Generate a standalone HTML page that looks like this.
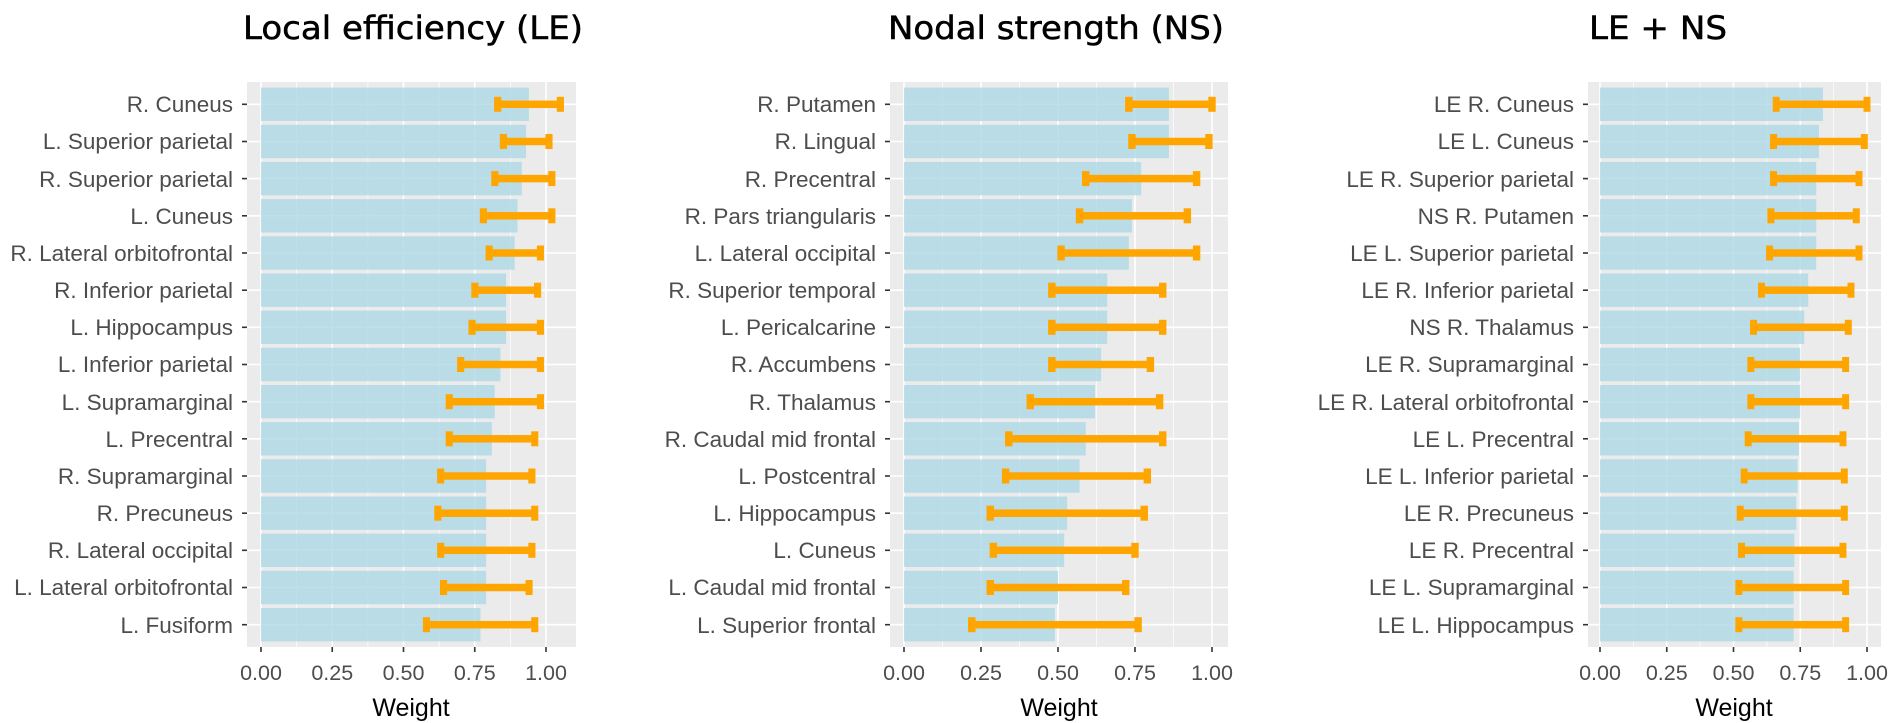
<!DOCTYPE html>
<html><head><meta charset="utf-8"><style>
html,body{margin:0;padding:0;background:#fff;}
svg{display:block;}
.yl{font-family:"Liberation Sans",sans-serif;font-size:22.5px;fill:#4D4D4D;text-anchor:end;}
.xl{font-family:"Liberation Sans",sans-serif;font-size:21.5px;fill:#4D4D4D;text-anchor:middle;}
.at{font-family:"Liberation Sans",sans-serif;font-size:25px;fill:#000;text-anchor:middle;}
.tt{font-family:"DejaVu Sans","Liberation Sans",sans-serif;font-size:32px;fill:#000;stroke:#000;stroke-width:0.5;}
.bar{fill:#ADD8E6;fill-opacity:0.8;}
.eb{fill:#FFA500;}
.gmaj{stroke:#fff;stroke-width:1.6;vector-effect:non-scaling-stroke;}
.gmin{stroke:#fff;stroke-width:0.7;vector-effect:non-scaling-stroke;}
.tk{stroke:#333;stroke-width:1.6;}
</style></head><body>
<svg width="1890" height="723" viewBox="0 0 1890 723" xmlns="http://www.w3.org/2000/svg">
<rect width="1890" height="723" fill="#fff"/>

<!-- ================= PANEL 1 ================= -->
<text class="tt" x="243" y="39" textLength="340" lengthAdjust="spacingAndGlyphs">Local efficiency (LE)</text>
<rect x="247" y="82" width="329" height="565" fill="#EBEBEB"/>
<g stroke="#fff" stroke-width="1.6">
<line x1="247" x2="576" y1="104.3" y2="104.3"/><line x1="247" x2="576" y1="141.5" y2="141.5"/><line x1="247" x2="576" y1="178.6" y2="178.6"/><line x1="247" x2="576" y1="215.8" y2="215.8"/><line x1="247" x2="576" y1="253.0" y2="253.0"/><line x1="247" x2="576" y1="290.2" y2="290.2"/><line x1="247" x2="576" y1="327.3" y2="327.3"/><line x1="247" x2="576" y1="364.5" y2="364.5"/><line x1="247" x2="576" y1="401.7" y2="401.7"/><line x1="247" x2="576" y1="438.8" y2="438.8"/><line x1="247" x2="576" y1="476.0" y2="476.0"/><line x1="247" x2="576" y1="513.2" y2="513.2"/><line x1="247" x2="576" y1="550.3" y2="550.3"/><line x1="247" x2="576" y1="587.5" y2="587.5"/><line x1="247" x2="576" y1="624.7" y2="624.7"/>
</g>
<g transform="translate(261,0) scale(285,1)">
<line class="gmin" x1="0.125" x2="0.125" y1="82" y2="647"/><line class="gmin" x1="0.375" x2="0.375" y1="82" y2="647"/><line class="gmin" x1="0.625" x2="0.625" y1="82" y2="647"/><line class="gmin" x1="0.875" x2="0.875" y1="82" y2="647"/>
<line class="gmaj" x1="0" x2="0" y1="82" y2="647"/><line class="gmaj" x1="0.25" x2="0.25" y1="82" y2="647"/><line class="gmaj" x1="0.5" x2="0.5" y1="82" y2="647"/><line class="gmaj" x1="0.75" x2="0.75" y1="82" y2="647"/><line class="gmaj" x1="1" x2="1" y1="82" y2="647"/>
<rect class="bar" x="0" width="0.94" y="87.6" height="33.4"/>
<rect class="bar" x="0" width="0.93" y="124.8" height="33.4"/>
<rect class="bar" x="0" width="0.915" y="161.9" height="33.4"/>
<rect class="bar" x="0" width="0.90" y="199.1" height="33.4"/>
<rect class="bar" x="0" width="0.89" y="236.3" height="33.4"/>
<rect class="bar" x="0" width="0.86" y="273.5" height="33.4"/>
<rect class="bar" x="0" width="0.86" y="310.6" height="33.4"/>
<rect class="bar" x="0" width="0.84" y="347.8" height="33.4"/>
<rect class="bar" x="0" width="0.82" y="385.0" height="33.4"/>
<rect class="bar" x="0" width="0.81" y="422.1" height="33.4"/>
<rect class="bar" x="0" width="0.79" y="459.3" height="33.4"/>
<rect class="bar" x="0" width="0.79" y="496.5" height="33.4"/>
<rect class="bar" x="0" width="0.79" y="533.6" height="33.4"/>
<rect class="bar" x="0" width="0.79" y="570.8" height="33.4"/>
<rect class="bar" x="0" width="0.77" y="608.0" height="33.4"/>
<g class="eb">
<rect x="0.83" width="0.22" y="100.55" height="7.5"/><rect x="0.818" width="0.025" y="96.8" height="15"/><rect x="1.038" width="0.025" y="96.8" height="15"/>
<rect x="0.85" width="0.16" y="137.75" height="7.5"/><rect x="0.838" width="0.025" y="134.0" height="15"/><rect x="0.998" width="0.025" y="134.0" height="15"/>
<rect x="0.82" width="0.20" y="174.85" height="7.5"/><rect x="0.808" width="0.025" y="171.1" height="15"/><rect x="1.008" width="0.025" y="171.1" height="15"/>
<rect x="0.78" width="0.24" y="212.05" height="7.5"/><rect x="0.768" width="0.025" y="208.3" height="15"/><rect x="1.008" width="0.025" y="208.3" height="15"/>
<rect x="0.80" width="0.18" y="249.25" height="7.5"/><rect x="0.788" width="0.025" y="245.5" height="15"/><rect x="0.968" width="0.025" y="245.5" height="15"/>
<rect x="0.75" width="0.22" y="286.45" height="7.5"/><rect x="0.738" width="0.025" y="282.7" height="15"/><rect x="0.958" width="0.025" y="282.7" height="15"/>
<rect x="0.74" width="0.24" y="323.55" height="7.5"/><rect x="0.728" width="0.025" y="319.8" height="15"/><rect x="0.968" width="0.025" y="319.8" height="15"/>
<rect x="0.70" width="0.28" y="360.75" height="7.5"/><rect x="0.688" width="0.025" y="357.0" height="15"/><rect x="0.968" width="0.025" y="357.0" height="15"/>
<rect x="0.66" width="0.32" y="397.95" height="7.5"/><rect x="0.648" width="0.025" y="394.2" height="15"/><rect x="0.968" width="0.025" y="394.2" height="15"/>
<rect x="0.66" width="0.30" y="435.05" height="7.5"/><rect x="0.648" width="0.025" y="431.3" height="15"/><rect x="0.948" width="0.025" y="431.3" height="15"/>
<rect x="0.63" width="0.32" y="472.25" height="7.5"/><rect x="0.618" width="0.025" y="468.5" height="15"/><rect x="0.938" width="0.025" y="468.5" height="15"/>
<rect x="0.62" width="0.34" y="509.45" height="7.5"/><rect x="0.608" width="0.025" y="505.7" height="15"/><rect x="0.948" width="0.025" y="505.7" height="15"/>
<rect x="0.63" width="0.32" y="546.55" height="7.5"/><rect x="0.618" width="0.025" y="542.8" height="15"/><rect x="0.938" width="0.025" y="542.8" height="15"/>
<rect x="0.64" width="0.30" y="583.75" height="7.5"/><rect x="0.628" width="0.025" y="580.0" height="15"/><rect x="0.928" width="0.025" y="580.0" height="15"/>
<rect x="0.58" width="0.38" y="620.95" height="7.5"/><rect x="0.568" width="0.025" y="617.2" height="15"/><rect x="0.948" width="0.025" y="617.2" height="15"/>
</g>
</g>
<g class="tk">
<line x1="242" x2="247" y1="104.3" y2="104.3"/><line x1="242" x2="247" y1="141.5" y2="141.5"/><line x1="242" x2="247" y1="178.6" y2="178.6"/><line x1="242" x2="247" y1="215.8" y2="215.8"/><line x1="242" x2="247" y1="253.0" y2="253.0"/><line x1="242" x2="247" y1="290.2" y2="290.2"/><line x1="242" x2="247" y1="327.3" y2="327.3"/><line x1="242" x2="247" y1="364.5" y2="364.5"/><line x1="242" x2="247" y1="401.7" y2="401.7"/><line x1="242" x2="247" y1="438.8" y2="438.8"/><line x1="242" x2="247" y1="476.0" y2="476.0"/><line x1="242" x2="247" y1="513.2" y2="513.2"/><line x1="242" x2="247" y1="550.3" y2="550.3"/><line x1="242" x2="247" y1="587.5" y2="587.5"/><line x1="242" x2="247" y1="624.7" y2="624.7"/>
<line x1="261" x2="261" y1="647" y2="652"/><line x1="332.25" x2="332.25" y1="647" y2="652"/><line x1="403.5" x2="403.5" y1="647" y2="652"/><line x1="474.75" x2="474.75" y1="647" y2="652"/><line x1="546" x2="546" y1="647" y2="652"/>
</g>
<g class="yl">
<text x="233" y="112">R. Cuneus</text>
<text x="233" y="149">L. Superior parietal</text>
<text x="233" y="187">R. Superior parietal</text>
<text x="233" y="224">L. Cuneus</text>
<text x="233" y="261">R. Lateral orbitofrontal</text>
<text x="233" y="298">R. Inferior parietal</text>
<text x="233" y="335">L. Hippocampus</text>
<text x="233" y="372">L. Inferior parietal</text>
<text x="233" y="410">L. Supramarginal</text>
<text x="233" y="447">L. Precentral</text>
<text x="233" y="484">R. Supramarginal</text>
<text x="233" y="521">R. Precuneus</text>
<text x="233" y="558">R. Lateral occipital</text>
<text x="233" y="595">L. Lateral orbitofrontal</text>
<text x="233" y="633">L. Fusiform</text>
</g>
<g class="xl">
<text x="261" y="680">0.00</text><text x="332.25" y="680">0.25</text><text x="403.5" y="680">0.50</text><text x="474.75" y="680">0.75</text><text x="546" y="680">1.00</text>
</g>
<text class="at" x="411" y="716">Weight</text>

<!-- ================= PANEL 2 ================= -->
<text class="tt" x="888" y="39" textLength="336" lengthAdjust="spacingAndGlyphs">Nodal strength (NS)</text>
<rect x="890" y="82" width="338" height="565" fill="#EBEBEB"/>
<g stroke="#fff" stroke-width="1.6">
<line x1="890" x2="1228" y1="104.3" y2="104.3"/><line x1="890" x2="1228" y1="141.5" y2="141.5"/><line x1="890" x2="1228" y1="178.6" y2="178.6"/><line x1="890" x2="1228" y1="215.8" y2="215.8"/><line x1="890" x2="1228" y1="253.0" y2="253.0"/><line x1="890" x2="1228" y1="290.2" y2="290.2"/><line x1="890" x2="1228" y1="327.3" y2="327.3"/><line x1="890" x2="1228" y1="364.5" y2="364.5"/><line x1="890" x2="1228" y1="401.7" y2="401.7"/><line x1="890" x2="1228" y1="438.8" y2="438.8"/><line x1="890" x2="1228" y1="476.0" y2="476.0"/><line x1="890" x2="1228" y1="513.2" y2="513.2"/><line x1="890" x2="1228" y1="550.3" y2="550.3"/><line x1="890" x2="1228" y1="587.5" y2="587.5"/><line x1="890" x2="1228" y1="624.7" y2="624.7"/>
</g>
<g transform="translate(904,0) scale(308,1)">
<line class="gmin" x1="0.125" x2="0.125" y1="82" y2="647"/><line class="gmin" x1="0.375" x2="0.375" y1="82" y2="647"/><line class="gmin" x1="0.625" x2="0.625" y1="82" y2="647"/><line class="gmin" x1="0.875" x2="0.875" y1="82" y2="647"/>
<line class="gmaj" x1="0" x2="0" y1="82" y2="647"/><line class="gmaj" x1="0.25" x2="0.25" y1="82" y2="647"/><line class="gmaj" x1="0.5" x2="0.5" y1="82" y2="647"/><line class="gmaj" x1="0.75" x2="0.75" y1="82" y2="647"/><line class="gmaj" x1="1" x2="1" y1="82" y2="647"/>
<rect class="bar" x="0" width="0.86" y="87.6" height="33.4"/>
<rect class="bar" x="0" width="0.86" y="124.8" height="33.4"/>
<rect class="bar" x="0" width="0.77" y="161.9" height="33.4"/>
<rect class="bar" x="0" width="0.74" y="199.1" height="33.4"/>
<rect class="bar" x="0" width="0.73" y="236.3" height="33.4"/>
<rect class="bar" x="0" width="0.66" y="273.5" height="33.4"/>
<rect class="bar" x="0" width="0.66" y="310.6" height="33.4"/>
<rect class="bar" x="0" width="0.64" y="347.8" height="33.4"/>
<rect class="bar" x="0" width="0.62" y="385.0" height="33.4"/>
<rect class="bar" x="0" width="0.59" y="422.1" height="33.4"/>
<rect class="bar" x="0" width="0.57" y="459.3" height="33.4"/>
<rect class="bar" x="0" width="0.53" y="496.5" height="33.4"/>
<rect class="bar" x="0" width="0.52" y="533.6" height="33.4"/>
<rect class="bar" x="0" width="0.50" y="570.8" height="33.4"/>
<rect class="bar" x="0" width="0.49" y="608.0" height="33.4"/>
<g class="eb">
<rect x="0.73" width="0.27" y="100.55" height="7.5"/><rect x="0.718" width="0.024" y="96.8" height="15"/><rect x="0.988" width="0.024" y="96.8" height="15"/>
<rect x="0.74" width="0.25" y="137.75" height="7.5"/><rect x="0.728" width="0.024" y="134.0" height="15"/><rect x="0.978" width="0.024" y="134.0" height="15"/>
<rect x="0.59" width="0.36" y="174.85" height="7.5"/><rect x="0.578" width="0.024" y="171.1" height="15"/><rect x="0.938" width="0.024" y="171.1" height="15"/>
<rect x="0.57" width="0.35" y="212.05" height="7.5"/><rect x="0.558" width="0.024" y="208.3" height="15"/><rect x="0.908" width="0.024" y="208.3" height="15"/>
<rect x="0.51" width="0.44" y="249.25" height="7.5"/><rect x="0.498" width="0.024" y="245.5" height="15"/><rect x="0.938" width="0.024" y="245.5" height="15"/>
<rect x="0.48" width="0.36" y="286.45" height="7.5"/><rect x="0.468" width="0.024" y="282.7" height="15"/><rect x="0.828" width="0.024" y="282.7" height="15"/>
<rect x="0.48" width="0.36" y="323.55" height="7.5"/><rect x="0.468" width="0.024" y="319.8" height="15"/><rect x="0.828" width="0.024" y="319.8" height="15"/>
<rect x="0.48" width="0.32" y="360.75" height="7.5"/><rect x="0.468" width="0.024" y="357.0" height="15"/><rect x="0.788" width="0.024" y="357.0" height="15"/>
<rect x="0.41" width="0.42" y="397.95" height="7.5"/><rect x="0.398" width="0.024" y="394.2" height="15"/><rect x="0.818" width="0.024" y="394.2" height="15"/>
<rect x="0.34" width="0.50" y="435.05" height="7.5"/><rect x="0.328" width="0.024" y="431.3" height="15"/><rect x="0.828" width="0.024" y="431.3" height="15"/>
<rect x="0.33" width="0.46" y="472.25" height="7.5"/><rect x="0.318" width="0.024" y="468.5" height="15"/><rect x="0.778" width="0.024" y="468.5" height="15"/>
<rect x="0.28" width="0.50" y="509.45" height="7.5"/><rect x="0.268" width="0.024" y="505.7" height="15"/><rect x="0.768" width="0.024" y="505.7" height="15"/>
<rect x="0.29" width="0.46" y="546.55" height="7.5"/><rect x="0.278" width="0.024" y="542.8" height="15"/><rect x="0.738" width="0.024" y="542.8" height="15"/>
<rect x="0.28" width="0.44" y="583.75" height="7.5"/><rect x="0.268" width="0.024" y="580.0" height="15"/><rect x="0.708" width="0.024" y="580.0" height="15"/>
<rect x="0.22" width="0.54" y="620.95" height="7.5"/><rect x="0.208" width="0.024" y="617.2" height="15"/><rect x="0.748" width="0.024" y="617.2" height="15"/>
</g>
</g>
<g class="tk">
<line x1="885" x2="890" y1="104.3" y2="104.3"/><line x1="885" x2="890" y1="141.5" y2="141.5"/><line x1="885" x2="890" y1="178.6" y2="178.6"/><line x1="885" x2="890" y1="215.8" y2="215.8"/><line x1="885" x2="890" y1="253.0" y2="253.0"/><line x1="885" x2="890" y1="290.2" y2="290.2"/><line x1="885" x2="890" y1="327.3" y2="327.3"/><line x1="885" x2="890" y1="364.5" y2="364.5"/><line x1="885" x2="890" y1="401.7" y2="401.7"/><line x1="885" x2="890" y1="438.8" y2="438.8"/><line x1="885" x2="890" y1="476.0" y2="476.0"/><line x1="885" x2="890" y1="513.2" y2="513.2"/><line x1="885" x2="890" y1="550.3" y2="550.3"/><line x1="885" x2="890" y1="587.5" y2="587.5"/><line x1="885" x2="890" y1="624.7" y2="624.7"/>
<line x1="904" x2="904" y1="647" y2="652"/><line x1="981" x2="981" y1="647" y2="652"/><line x1="1058" x2="1058" y1="647" y2="652"/><line x1="1135" x2="1135" y1="647" y2="652"/><line x1="1212" x2="1212" y1="647" y2="652"/>
</g>
<g class="yl">
<text x="876" y="112">R. Putamen</text>
<text x="876" y="149">R. Lingual</text>
<text x="876" y="187">R. Precentral</text>
<text x="876" y="224">R. Pars triangularis</text>
<text x="876" y="261">L. Lateral occipital</text>
<text x="876" y="298">R. Superior temporal</text>
<text x="876" y="335">L. Pericalcarine</text>
<text x="876" y="372">R. Accumbens</text>
<text x="876" y="410">R. Thalamus</text>
<text x="876" y="447">R. Caudal mid frontal</text>
<text x="876" y="484">L. Postcentral</text>
<text x="876" y="521">L. Hippocampus</text>
<text x="876" y="558">L. Cuneus</text>
<text x="876" y="595">L. Caudal mid frontal</text>
<text x="876" y="633">L. Superior frontal</text>
</g>
<g class="xl">
<text x="904" y="680">0.00</text><text x="981" y="680">0.25</text><text x="1058" y="680">0.50</text><text x="1135" y="680">0.75</text><text x="1212" y="680">1.00</text>
</g>
<text class="at" x="1059" y="716">Weight</text>

<!-- ================= PANEL 3 ================= -->
<text class="tt" x="1589" y="39" textLength="138" lengthAdjust="spacingAndGlyphs">LE + NS</text>
<rect x="1588" y="82" width="293" height="565" fill="#EBEBEB"/>
<g stroke="#fff" stroke-width="1.6">
<line x1="1588" x2="1881" y1="104.3" y2="104.3"/><line x1="1588" x2="1881" y1="141.5" y2="141.5"/><line x1="1588" x2="1881" y1="178.6" y2="178.6"/><line x1="1588" x2="1881" y1="215.8" y2="215.8"/><line x1="1588" x2="1881" y1="253.0" y2="253.0"/><line x1="1588" x2="1881" y1="290.2" y2="290.2"/><line x1="1588" x2="1881" y1="327.3" y2="327.3"/><line x1="1588" x2="1881" y1="364.5" y2="364.5"/><line x1="1588" x2="1881" y1="401.7" y2="401.7"/><line x1="1588" x2="1881" y1="438.8" y2="438.8"/><line x1="1588" x2="1881" y1="476.0" y2="476.0"/><line x1="1588" x2="1881" y1="513.2" y2="513.2"/><line x1="1588" x2="1881" y1="550.3" y2="550.3"/><line x1="1588" x2="1881" y1="587.5" y2="587.5"/><line x1="1588" x2="1881" y1="624.7" y2="624.7"/>
</g>
<g transform="translate(1600,0) scale(267,1)">
<line class="gmin" x1="0.125" x2="0.125" y1="82" y2="647"/><line class="gmin" x1="0.375" x2="0.375" y1="82" y2="647"/><line class="gmin" x1="0.625" x2="0.625" y1="82" y2="647"/><line class="gmin" x1="0.875" x2="0.875" y1="82" y2="647"/>
<line class="gmaj" x1="0" x2="0" y1="82" y2="647"/><line class="gmaj" x1="0.25" x2="0.25" y1="82" y2="647"/><line class="gmaj" x1="0.5" x2="0.5" y1="82" y2="647"/><line class="gmaj" x1="0.75" x2="0.75" y1="82" y2="647"/><line class="gmaj" x1="1" x2="1" y1="82" y2="647"/>
<rect class="bar" x="0" width="0.835" y="87.6" height="33.4"/>
<rect class="bar" x="0" width="0.82" y="124.8" height="33.4"/>
<rect class="bar" x="0" width="0.81" y="161.9" height="33.4"/>
<rect class="bar" x="0" width="0.81" y="199.1" height="33.4"/>
<rect class="bar" x="0" width="0.81" y="236.3" height="33.4"/>
<rect class="bar" x="0" width="0.78" y="273.5" height="33.4"/>
<rect class="bar" x="0" width="0.765" y="310.6" height="33.4"/>
<rect class="bar" x="0" width="0.75" y="347.8" height="33.4"/>
<rect class="bar" x="0" width="0.75" y="385.0" height="33.4"/>
<rect class="bar" x="0" width="0.745" y="422.1" height="33.4"/>
<rect class="bar" x="0" width="0.74" y="459.3" height="33.4"/>
<rect class="bar" x="0" width="0.735" y="496.5" height="33.4"/>
<rect class="bar" x="0" width="0.728" y="533.6" height="33.4"/>
<rect class="bar" x="0" width="0.725" y="570.8" height="33.4"/>
<rect class="bar" x="0" width="0.725" y="608.0" height="33.4"/>
<g class="eb">
<rect x="0.66" width="0.34" y="100.55" height="7.5"/><rect x="0.647" width="0.026" y="96.8" height="15"/><rect x="0.987" width="0.026" y="96.8" height="15"/>
<rect x="0.65" width="0.34" y="137.75" height="7.5"/><rect x="0.637" width="0.026" y="134.0" height="15"/><rect x="0.977" width="0.026" y="134.0" height="15"/>
<rect x="0.65" width="0.32" y="174.85" height="7.5"/><rect x="0.637" width="0.026" y="171.1" height="15"/><rect x="0.957" width="0.026" y="171.1" height="15"/>
<rect x="0.64" width="0.32" y="212.05" height="7.5"/><rect x="0.627" width="0.026" y="208.3" height="15"/><rect x="0.947" width="0.026" y="208.3" height="15"/>
<rect x="0.635" width="0.335" y="249.25" height="7.5"/><rect x="0.622" width="0.026" y="245.5" height="15"/><rect x="0.957" width="0.026" y="245.5" height="15"/>
<rect x="0.605" width="0.335" y="286.45" height="7.5"/><rect x="0.592" width="0.026" y="282.7" height="15"/><rect x="0.927" width="0.026" y="282.7" height="15"/>
<rect x="0.575" width="0.355" y="323.55" height="7.5"/><rect x="0.562" width="0.026" y="319.8" height="15"/><rect x="0.917" width="0.026" y="319.8" height="15"/>
<rect x="0.565" width="0.355" y="360.75" height="7.5"/><rect x="0.552" width="0.026" y="357.0" height="15"/><rect x="0.907" width="0.026" y="357.0" height="15"/>
<rect x="0.565" width="0.355" y="397.95" height="7.5"/><rect x="0.552" width="0.026" y="394.2" height="15"/><rect x="0.907" width="0.026" y="394.2" height="15"/>
<rect x="0.555" width="0.355" y="435.05" height="7.5"/><rect x="0.542" width="0.026" y="431.3" height="15"/><rect x="0.897" width="0.026" y="431.3" height="15"/>
<rect x="0.54" width="0.375" y="472.25" height="7.5"/><rect x="0.527" width="0.026" y="468.5" height="15"/><rect x="0.902" width="0.026" y="468.5" height="15"/>
<rect x="0.525" width="0.39" y="509.45" height="7.5"/><rect x="0.512" width="0.026" y="505.7" height="15"/><rect x="0.902" width="0.026" y="505.7" height="15"/>
<rect x="0.53" width="0.38" y="546.55" height="7.5"/><rect x="0.517" width="0.026" y="542.8" height="15"/><rect x="0.897" width="0.026" y="542.8" height="15"/>
<rect x="0.52" width="0.40" y="583.75" height="7.5"/><rect x="0.507" width="0.026" y="580.0" height="15"/><rect x="0.907" width="0.026" y="580.0" height="15"/>
<rect x="0.52" width="0.40" y="620.95" height="7.5"/><rect x="0.507" width="0.026" y="617.2" height="15"/><rect x="0.907" width="0.026" y="617.2" height="15"/>
</g>
</g>
<g class="tk">
<line x1="1583" x2="1588" y1="104.3" y2="104.3"/><line x1="1583" x2="1588" y1="141.5" y2="141.5"/><line x1="1583" x2="1588" y1="178.6" y2="178.6"/><line x1="1583" x2="1588" y1="215.8" y2="215.8"/><line x1="1583" x2="1588" y1="253.0" y2="253.0"/><line x1="1583" x2="1588" y1="290.2" y2="290.2"/><line x1="1583" x2="1588" y1="327.3" y2="327.3"/><line x1="1583" x2="1588" y1="364.5" y2="364.5"/><line x1="1583" x2="1588" y1="401.7" y2="401.7"/><line x1="1583" x2="1588" y1="438.8" y2="438.8"/><line x1="1583" x2="1588" y1="476.0" y2="476.0"/><line x1="1583" x2="1588" y1="513.2" y2="513.2"/><line x1="1583" x2="1588" y1="550.3" y2="550.3"/><line x1="1583" x2="1588" y1="587.5" y2="587.5"/><line x1="1583" x2="1588" y1="624.7" y2="624.7"/>
<line x1="1600" x2="1600" y1="647" y2="652"/><line x1="1666.75" x2="1666.75" y1="647" y2="652"/><line x1="1733.5" x2="1733.5" y1="647" y2="652"/><line x1="1800.25" x2="1800.25" y1="647" y2="652"/><line x1="1867" x2="1867" y1="647" y2="652"/>
</g>
<g class="yl">
<text x="1574" y="112">LE R. Cuneus</text>
<text x="1574" y="149">LE L. Cuneus</text>
<text x="1574" y="187">LE R. Superior parietal</text>
<text x="1574" y="224">NS R. Putamen</text>
<text x="1574" y="261">LE L. Superior parietal</text>
<text x="1574" y="298">LE R. Inferior parietal</text>
<text x="1574" y="335">NS R. Thalamus</text>
<text x="1574" y="372">LE R. Supramarginal</text>
<text x="1574" y="410">LE R. Lateral orbitofrontal</text>
<text x="1574" y="447">LE L. Precentral</text>
<text x="1574" y="484">LE L. Inferior parietal</text>
<text x="1574" y="521">LE R. Precuneus</text>
<text x="1574" y="558">LE R. Precentral</text>
<text x="1574" y="595">LE L. Supramarginal</text>
<text x="1574" y="633">LE L. Hippocampus</text>
</g>
<g class="xl">
<text x="1600" y="680">0.00</text><text x="1666.75" y="680">0.25</text><text x="1733.5" y="680">0.50</text><text x="1800.25" y="680">0.75</text><text x="1867" y="680">1.00</text>
</g>
<text class="at" x="1734" y="716">Weight</text>
</svg>
</body></html>
